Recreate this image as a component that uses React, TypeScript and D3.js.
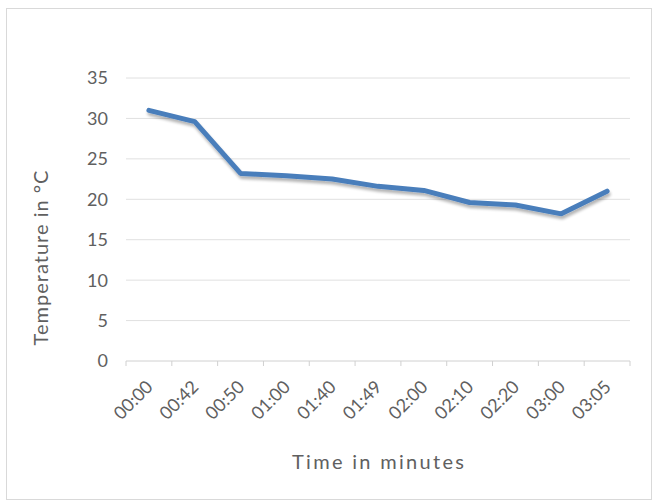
import React from "react";
import * as d3 from "d3";

const categories = ["00:00", "00:42", "00:50", "01:00", "01:40", "01:49", "02:00", "02:10", "02:20", "03:00", "03:05"];
const temperatures = [31.0, 29.6, 23.2, 22.9, 22.5, 21.6, 21.1, 19.6, 19.3, 18.2, 21.0];
const yTicks = [0, 5, 10, 15, 20, 25, 30, 35];
const xTitle = "Time in minutes";
const yTitle = "Temperature in °C";

export default function App() {
  const W = 654, H = 503;
  const left = 126, right = 630, top = 78, bottom = 361;
  const x = d3.scaleBand<string>().domain(categories).range([left, right]);
  const y = d3.scaleLinear().domain([0, 35]).range([bottom, top]);
  const line = d3.line<number>()
    .x((_, i) => (x(categories[i]) as number) + x.bandwidth() / 2)
    .y((d) => y(d));
  const font = "Lato, 'Open Sans', sans-serif";
  const textColor = "#606060";
  const tickXs = categories.map((c) => x(c) as number).concat([right]);
  return (
    <svg width={W} height={H} style={{ position: "absolute", left: 0, top: 0, background: "#fff" }} fontFamily={font}>
      <defs>
        <filter id="shadow" x="-10%" y="-20%" width="120%" height="160%">
          <feGaussianBlur in="SourceAlpha" stdDeviation="1.8" />
          <feOffset dx="1" dy="3" result="ob" />
          <feComponentTransfer>
            <feFuncA type="linear" slope="0.3" />
          </feComponentTransfer>
          <feMerge>
            <feMergeNode />
            <feMergeNode in="SourceGraphic" />
          </feMerge>
        </filter>
      </defs>
      <rect x={6.5} y={8.5} width={645} height={491} fill="#fff" stroke="#d9d9d9" />
      {yTicks.map((t) => (
        <g key={t}>
          <line x1={left} x2={right} y1={y(t)} y2={y(t)} stroke={t === 0 ? "#d0d0d0" : "#e0e0e0"} strokeWidth={1} />
          <text x={108} y={y(t)} dy="0.36em" textAnchor="end" fontSize={18} fill={textColor}>{t}</text>
        </g>
      ))}
      {tickXs.map((tx, i) => (
        <line key={i} x1={tx} x2={tx} y1={bottom} y2={bottom + 5} stroke="#d0d0d0" />
      ))}
      {categories.map((c) => {
        const cx = (x(c) as number) + x.bandwidth() / 2 + 5;
        const cy = bottom + 27;
        return (
          <text key={c} x={cx} y={cy} textAnchor="end" fontSize={18} fill={textColor}
            transform={`rotate(-45 ${cx} ${cy})`}>{c}</text>
        );
      })}
      <path d={line(temperatures) as string} fill="none" stroke="#4a7ebb" strokeWidth={5} strokeLinejoin="round" strokeLinecap="round" filter="url(#shadow)" />
      <text x={378} y={469} textAnchor="middle" fontSize={20} fill={textColor} textLength={172} lengthAdjust="spacing">{xTitle}</text>
      <text transform="translate(48 258) rotate(-90)" textAnchor="middle" fontSize={20} fill={textColor} textLength={175} lengthAdjust="spacing">{yTitle}</text>
    </svg>
  );
}
